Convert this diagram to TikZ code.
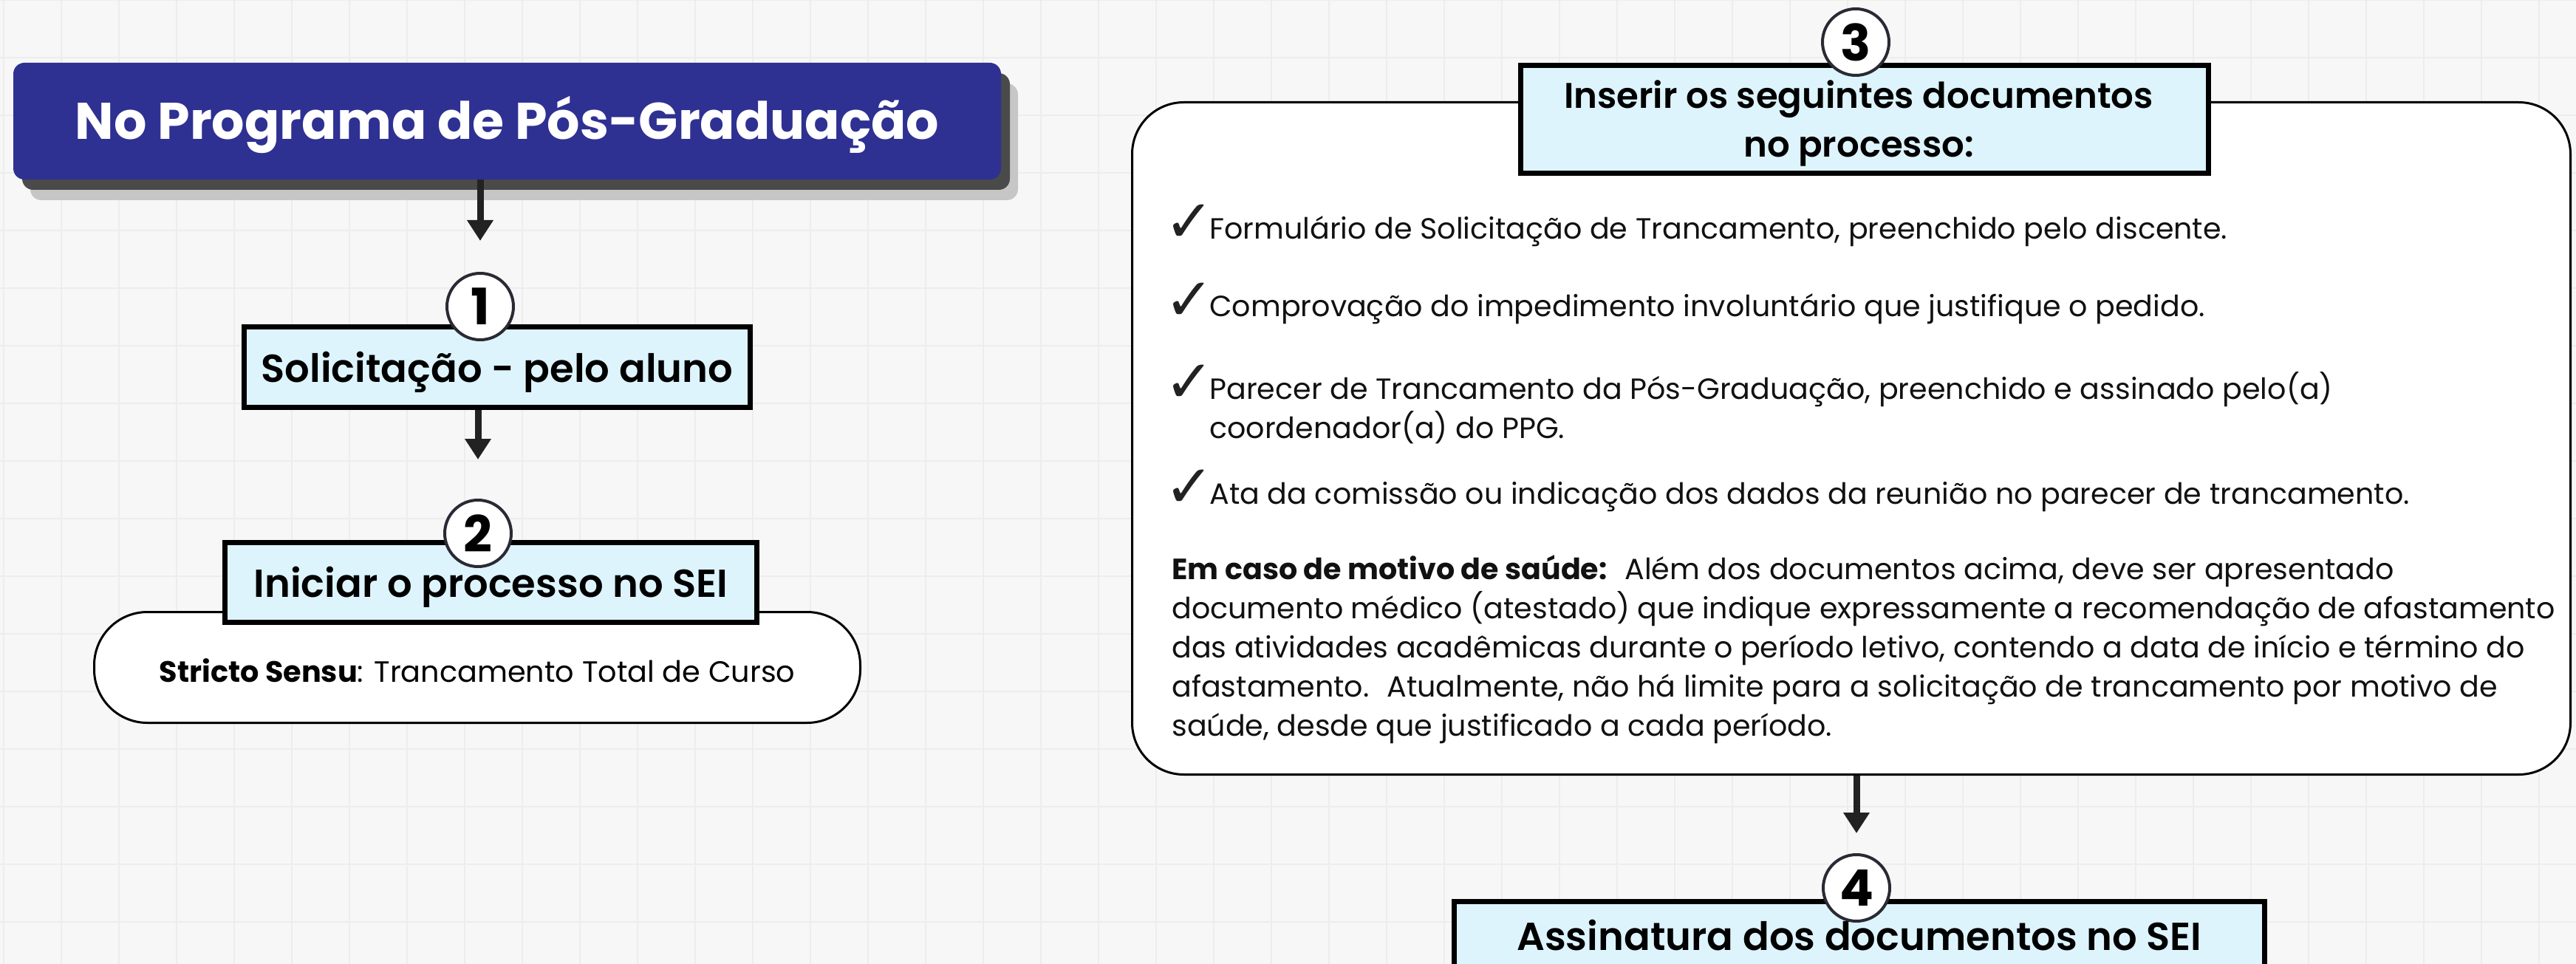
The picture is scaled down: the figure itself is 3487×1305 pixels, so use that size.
\documentclass[tikz,border=0pt]{standalone}
\usepackage{fontspec}
\setmainfont{Poppins}
\newfontfamily\psemi{Poppins SemiBold}
\newfontfamily\symf{DejaVu Sans}
\usetikzlibrary{arrows.meta}
\definecolor{bgc}{HTML}{F7F7F7}
\definecolor{gridc}{HTML}{EDEDED}
\definecolor{ttl}{HTML}{2E3192}
\definecolor{lblue}{HTML}{DDF4FD}
\definecolor{shdark}{HTML}{4A4A4A}
\definecolor{shlight}{HTML}{C6C6C6}
\definecolor{circc}{HTML}{2A2A35}
\definecolor{arrc}{HTML}{222222}
\definecolor{txt}{HTML}{111111}
\begin{document}
\begin{tikzpicture}[x=0.5pt,y=-0.5pt,
  boxtxt/.style={draw=black, line width=3.5pt, fill=lblue, inner sep=0pt,
    font=\psemi\fontsize{26.4pt}{32pt}\selectfont, text height=20pt, text depth=0pt},
  numc/.style={circle, draw=circc, line width=2pt, fill=white, minimum size=45pt,
    inner sep=0pt, font=\bfseries\fontsize{34pt}{34pt}\selectfont},
  body/.style={anchor=base west, inner sep=0pt, text=txt,
    font=\fontsize{19.8pt}{26pt}\selectfont},
  ck/.style={anchor=base west, inner sep=0pt, text=arrc,
    font=\symf\fontsize{40pt}{40pt}\selectfont},
  arr/.style={draw=arrc, line width=4.5pt, -{Triangle[length=14pt,width=17pt]}},
  roundbox/.style={draw=black, line width=1.5pt, fill=white, inner sep=0pt}
]
\clip (0,0) rectangle (3487,1305);
\fill[bgc] (0,0) rectangle (3487,1305);
\foreach \i in {0,...,44} \draw[gridc, line width=0.6pt] ({5+78*\i},0) -- ++(0,1305);
\foreach \j in {0,...,16} \draw[gridc, line width=0.6pt] (0,{78*\j}) -- ++(3487,0);

% ---- title with shadows
\fill[shlight, rounded corners=7.5pt] (41,113) rectangle (1378,271);
\fill[shdark, rounded corners=7.5pt] (30,99) rectangle (1367,257);
\node (title) [fill=ttl, rounded corners=7.5pt, minimum width=668.5pt, minimum height=79pt,
  inner sep=0pt, text=white, font=\bfseries\fontsize{34.9pt}{38pt}\selectfont,
  text height=25pt, text depth=0pt] at (686.5,164) {No Programa de Pós-Graduação};

% ---- step 1
\node (b1) [boxtxt, minimum width=342.5pt, minimum height=54.5pt] at (673,497) {Solicitação - pelo aluno};
\node (c1) [numc] at (650,415) {1};

% ---- step 2
\node (pill) [roundbox, rounded corners=36pt, minimum width=518.5pt, minimum height=75pt,
  font=\fontsize{19.9pt}{26pt}\selectfont, text height=19.5pt, text depth=0pt] at (646,903.5)
  {\textbf{Stricto Sensu}: Trancamento Total de Curso};
\node (b2) [boxtxt, minimum width=360pt, minimum height=54pt] at (664.5,788.5) {Iniciar o processo no SEI};
\node (c2) [numc] at (647,722) {2};

% ---- step 3
\node (big) [roundbox, rounded corners=35pt, minimum width=973.5pt, minimum height=455pt] at (2506,593.5) {};
\node (b3) [boxtxt, minimum width=465.5pt, minimum height=73pt] at (2524,161.5) {};
\node (b3a) [inner sep=0pt, anchor=base, font=\psemi\fontsize{24.1pt}{30pt}\selectfont] at (2516,147) {Inserir os seguintes documentos};
\node (b3b) [inner sep=0pt, anchor=base, font=\psemi\fontsize{24.1pt}{30pt}\selectfont] at (2516,213) {no processo:};
\node (c3) [numc] at (2512,57) {3};

\node (k1) [ck] at (1576,328) {✓};
\node (i1) [body] at (1637,324) {Formulário de Solicitação de Trancamento, preenchido pelo discente.};
\node (k2) [ck] at (1576,433) {✓};
\node (i2) [body] at (1637,429) {Comprovação do impedimento involuntário que justifique o pedido.};
\node (k3) [ck] at (1576,544) {✓};
\node (i3) [body] at (1637,540) {Parecer de Trancamento da Pós-Graduação, preenchido e assinado pelo(a)};
\node (i3b) [body] at (1637,593) {coordenador(a) do PPG.};
\node (k4) [ck] at (1576,686) {✓};
\node (i4) [body] at (1637,682) {Ata da comissão ou indicação dos dados da reunião no parecer de trancamento.};

\node (p1) [body] at (1586,784) {\textbf{Em caso de motivo de saúde:}\hspace{0.6em}Além dos documentos acima, deve ser apresentado};
\node (p2) [body] at (1586,837) {documento médico (atestado) que indique expressamente a recomendação de afastamento};
\node (p3) [body] at (1586,890) {das atividades acadêmicas durante o período letivo, contendo a data de início e término do};
\node (p4) [body] at (1586,943) {afastamento.\hspace{0.6em}Atualmente, não há limite para a solicitação de trancamento por motivo de};
\node (p5) [body] at (1586,996) {saúde, desde que justificado a cada período.};

% ---- step 4
\node (b4) [boxtxt, anchor=north, minimum width=548.5pt, text height=33.25pt, text depth=50pt] at (2517,1216.5) {Assinatura dos documentos no SEI};
\node (c4) [numc] at (2513,1202) {4};

% ---- connectors
\draw[arr, shorten >=21pt] (title.south -| c1.center) -- (c1.north);
\draw[arr, shorten >=26.5pt] (b1.south -| c2.center) -- (c2.north);
\draw[arr, shorten >=13.5pt] (big.south -| c4.center) -- (c4.north);
\end{tikzpicture}
\end{document}
